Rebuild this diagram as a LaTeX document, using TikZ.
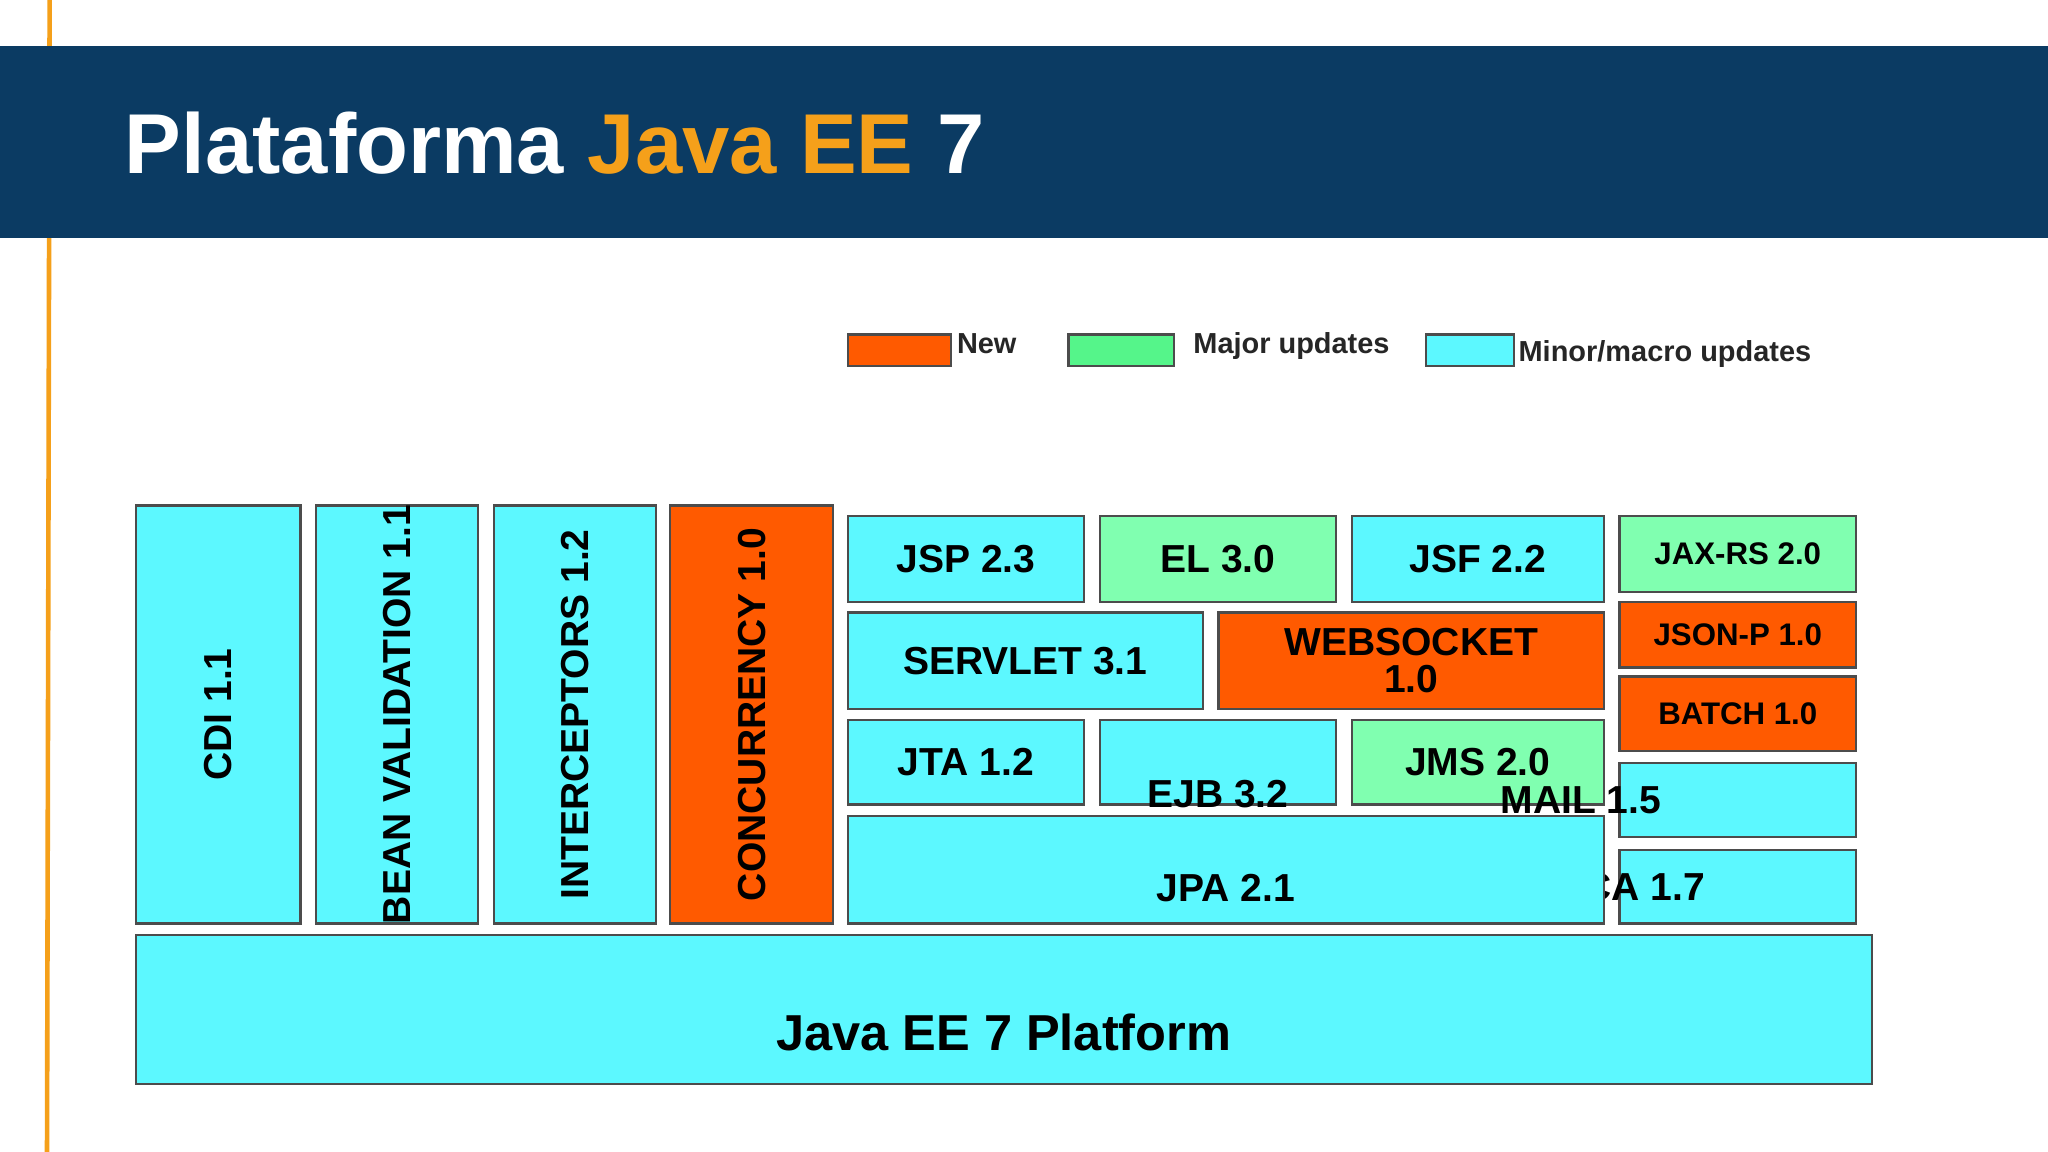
\documentclass[tikz,border=0pt]{standalone}
\usepackage{fontspec}
\setmainfont{Liberation Sans}
\definecolor{hdr}{HTML}{0B3B63}
\definecolor{ttlor}{HTML}{F5A01A}
\definecolor{cy}{HTML}{5CF8FF}
\definecolor{orb}{HTML}{FF5A00}
\definecolor{gr}{HTML}{80FFB0}
\definecolor{grl}{HTML}{55F58A}
\newcommand{\bx}[8][]{%
  \draw[box,fill=#7] (#3,#4) rectangle (#5,#6);
  \node[txt,#1] (#2) at ({(#3+#5)/2},{(#4+#6)/2}) {#8};}
\begin{document}
\begin{tikzpicture}[x=0.01cm,y=-0.01cm,
  box/.style={draw=black!70,line width=0.5pt},
  txt/.style={inner sep=0pt,align=center,font=\fontsize{8.5}{9}\selectfont\bfseries},
  sm/.style={font=\fontsize{6.8}{7}\selectfont\bfseries},
  lg/.style={draw=black!70,line width=0.5pt},
  lt/.style={anchor=west,inner sep=0pt,font=\fontsize{6.3}{7}\selectfont\bfseries,text=black!85}]
\useasboundingbox (0,0) rectangle (1568,882);
\fill[white] (0,0) rectangle (1568,882);
\draw[ttlor,line width=1pt] (38,0) -- (36,882);
\fill[hdr] (0,35) rectangle (1568,182);
\node[anchor=base west,inner sep=0pt,text=white,font=\fontsize{18.5}{22}\selectfont\bfseries] (title) at (95,133) {Plataforma \textcolor{ttlor}{Java EE} 7};
% legend
\draw[lg,fill=orb] (649,256) rectangle (728,280);
\node[lt] (lnew) at (732,263) {New};
\draw[lg,fill=grl] (818,256) rectangle (899,280);
\node[lt] (lmaj) at (913,265) {Major updates};
\draw[lg,fill=cy] (1092,256) rectangle (1159,280);
\node[lt] (lmin) at (1162,271) {Minor/macro updates};
% vertical boxes
\bx[rotate=90]{cdi}{104}{387}{230}{707}{cy}{CDI 1.1}
\bx[rotate=90]{bv}{242}{387}{366}{707}{cy}{BEAN VALIDATION 1.1}
\bx[rotate=90]{int}{378}{387}{502}{707}{cy}{INTERCEPTORS 1.2}
\bx[rotate=90]{conc}{513}{387}{638}{707}{orb}{CONCURRENCY 1.0}
% other boxes
\bx{jsp}{649}{395}{830}{461}{cy}{JSP 2.3}
\bx{el}{842}{395}{1023}{461}{gr}{EL 3.0}
\bx{jsf}{1035}{395}{1228}{461}{cy}{JSF 2.2}
\bx[sm]{jaxrs}{1240}{395}{1421}{453}{gr}{JAX-RS 2.0}
\bx{serv}{649}{469}{921}{543}{cy}{SERVLET 3.1}
\bx{ws}{933}{469}{1228}{543}{orb}{WEBSOCKET\\[-1pt]1.0}
\bx[sm]{json}{1240}{461}{1421}{511}{orb}{JSON-P 1.0}
\bx[sm]{batch}{1240}{518}{1421}{575}{orb}{BATCH 1.0}
\bx{jta}{649}{551}{830}{616}{cy}{JTA 1.2}
\bx[yshift=-7]{ejb}{842}{551}{1023}{616}{cy}{EJB 3.2}
\bx{jms}{1035}{551}{1228}{616}{gr}{JMS 2.0}
\bx[xshift=-1.2cm]{mail}{1240}{584}{1421}{641}{cy}{MAIL 1.5}
\bx[xshift=-0.8cm]{jca}{1240}{651}{1421}{707}{cy}{JCA 1.7}
\bx[yshift=-4]{jpa}{649}{625}{1228}{707}{cy}{JPA 2.1}
\bx[font=\fontsize{11}{12}\selectfont\bfseries,yshift=-5]{plat}{104}{716}{1433}{830}{cy}{Java EE 7 Platform}
\end{tikzpicture}
\end{document}
